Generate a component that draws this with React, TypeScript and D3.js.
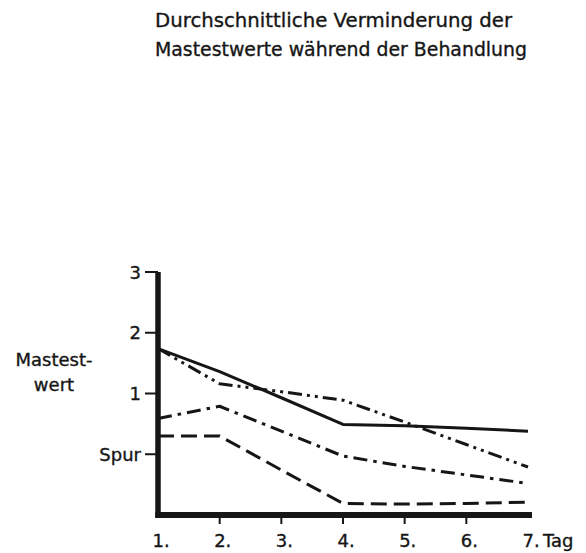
import React from 'react';
import * as d3 from 'd3';

// days on the x axis
const days = [1, 2, 3, 4, 5, 6, 7];
const dayLabels = ['1.', '2.', '3.', '4.', '5.', '6.', '7.'];

// y ticks: 0 = "Spur", bottom of axis (-1) = none
const yTicks = [0, 1, 2, 3];
const yTickLabels = ['Spur', '1', '2', '3'];

// four groups
const solidValues = [1.74, 1.36, 0.93, 0.49, 0.47, 0.43, 0.38];
const dashDotDotValues = [1.74, 1.16, 1.03, 0.89, 0.53, 0.16, -0.21];
const dashDotValues = [0.59, 0.79, 0.38, -0.03, -0.2, -0.34, -0.48];
const dashedValues = [0.3, 0.3, -0.26, -0.81, -0.82, -0.81, -0.79];

const titleLines = ['Durchschnittliche Verminderung der', 'Mastestwerte während der Behandlung'];
const titleWidths = [357, 372];

const W = 586;
const H = 553;
const ink = '#161616';
const font = '"DejaVu Sans", "Liberation Sans", Arial, sans-serif';

export default function App() {
  const x = d3.scaleLinear().domain([1, 7]).range([158, 528]);
  const y = d3.scaleLinear().domain([-1, 3]).range([515, 272]);

  const line = d3
    .line<number>()
    .x((_, i) => x(days[i]))
    .y(d => y(d));

  const series = [
    { values: solidValues, dash: undefined, width: 3 },
    { values: dashDotDotValues, dash: '14 5 3 5 3 5', width: 3 },
    { values: dashDotValues, dash: '14 6 3.5 6', width: 3 },
    { values: dashedValues, dash: '16 7', width: 3 },
  ];

  const x0 = x(1);
  const yBottom = y(-1);
  const yTop = y(3);
  const txt = { fill: ink, stroke: ink, strokeWidth: 0.35 };

  return (
    <svg
      width={W}
      height={H}
      style={{ position: 'absolute', left: 0, top: 0, background: '#fff', fontFamily: font }}
    >
      {/* title */}
      {titleLines.map((t, i) => (
        <text
          key={i}
          x={155}
          y={27 + i * 29}
          fontSize={19.5}
          textLength={titleWidths[i]}
          lengthAdjust="spacingAndGlyphs"
          {...txt}
        >
          {t}
        </text>
      ))}

      {/* data lines */}
      {series.map((s, i) => (
        <path
          key={i}
          d={line(s.values) ?? ''}
          fill="none"
          stroke={ink}
          strokeWidth={s.width}
          strokeDasharray={s.dash}
          strokeLinejoin="round"
        />
      ))}

      {/* axes */}
      <line x1={x0} x2={x0} y1={yTop} y2={yBottom + 3} stroke={ink} strokeWidth={5.5} />
      <line x1={x0 - 2.7} x2={x(7) + 4} y1={yBottom} y2={yBottom} stroke={ink} strokeWidth={6} />

      {/* y ticks */}
      {yTicks.map((v, i) => (
        <g key={v}>
          <line x1={x0 - 13} x2={x0} y1={y(v)} y2={y(v)} stroke={ink} strokeWidth={2} />
          <text x={x0 - 17} y={y(v) + 6.5} textAnchor="end" fontSize={18} {...txt}>
            {yTickLabels[i]}
          </text>
        </g>
      ))}

      {/* x ticks */}
      {days.map((d, i) => (
        <g key={d}>
          {i > 0 && i < days.length - 1 && (
            <line x1={x(d)} x2={x(d)} y1={yBottom} y2={yBottom + 9} stroke={ink} strokeWidth={2} />
          )}
          <text x={x(d) - 5.5} y={547} fontSize={18} {...txt}>
            {dayLabels[i]}
          </text>
        </g>
      ))}
      <text x={x(7) + 15} y={547} fontSize={18} {...txt}>
        Tag
      </text>

      {/* y axis title */}
      <text x={54} y={366} textAnchor="middle" fontSize={18} {...txt}>
        Mastest-
      </text>
      <text x={54} y={391} textAnchor="middle" fontSize={18} {...txt}>
        wert
      </text>
    </svg>
  );
}
